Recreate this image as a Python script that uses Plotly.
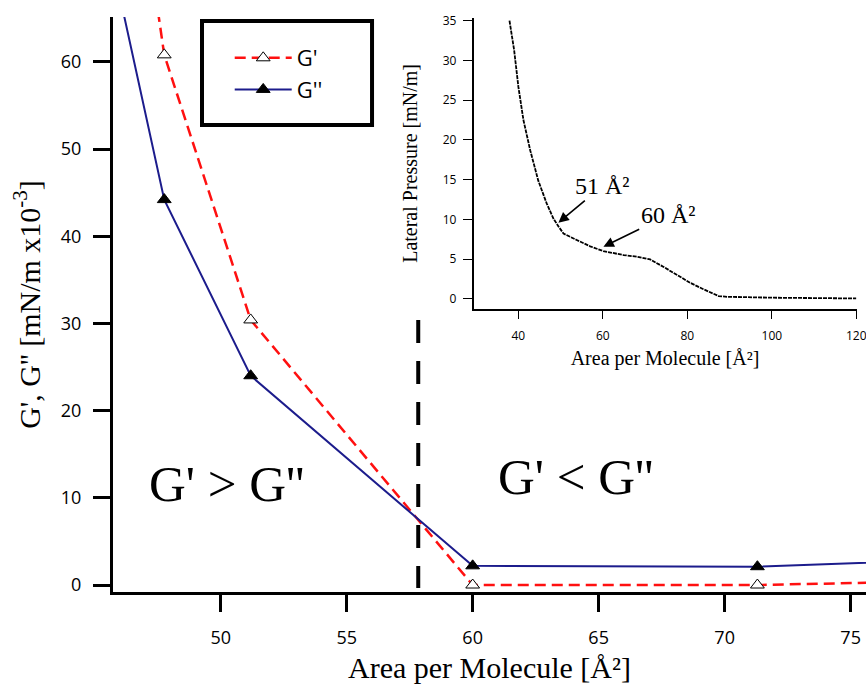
import plotly.graph_objects as go

# ---- main chart data: G', G'' vs area per molecule ----
area = [45.0, 47.76, 51.19, 60.0, 71.3, 80.0]
g_prime = [116.0, 60.8, 30.4, 0.0, 0.0, 0.52]        # G'  (mN/m x10^-3)
g_double = [80.7, 44.2, 24.0, 2.2, 2.1, 3.0]         # G'' (mN/m x10^-3)
crossover_area = 57.84
crossover_top = 30.4
crossover_bottom = -0.35

main_xticks = [50, 55, 60, 65, 70, 75]
main_yticks = [0, 10, 20, 30, 40, 50, 60]

# ---- inset data: Langmuir isotherm ----
iso_area = [37.9, 39.0, 40.0, 41.2, 42.8, 44.7, 46.7, 48.3, 49.5, 50.7, 53.8, 57.0,
            60.1, 64.9, 68.0, 71.2, 74.4, 77.5, 80.7, 83.8, 87.4, 89.4, 96.5, 100.4, 120.0]
iso_pressure = [35.0, 31.3, 26.7, 22.5, 18.7, 14.9, 12.0, 10.1, 9.1, 8.2, 7.4, 6.6,
                6.0, 5.5, 5.3, 4.95, 4.0, 3.0, 2.0, 1.2, 0.34, 0.25, 0.17, 0.13, 0.04]
inset_xticks = [40, 60, 80, 100, 120]
inset_yticks = [0, 5, 10, 15, 20, 25, 30, 35]

# annotated points on the isotherm (arrow head) and label positions
mark_labels = ["51 Å²", "60 Å²"]
mark_area = [49.48, 60.14]
mark_pressure = [9.57, 6.55]
label_area = [59.83, 75.47]
label_pressure = [14.19, 10.54]

serif = "Liberation Serif, Times New Roman, serif"
sans = "Open Sans, DejaVu Sans, sans-serif"

fig = go.Figure()

fig.add_trace(go.Scatter(
    x=area, y=g_prime, name="G'", mode="lines+markers",
    line=dict(color="#ff1010", width=2.5, dash="11px,6px"),
    marker=dict(symbol="triangle-up", size=12, color="white",
                line=dict(color="black", width=1)),
    legendgroup="a",
))
fig.add_trace(go.Scatter(
    x=area, y=g_double, name="G''", mode="lines+markers",
    line=dict(color="#1c1c8c", width=2),
    marker=dict(symbol="triangle-up", size=12, color="black",
                line=dict(color="black", width=1)),
    legendgroup="b",
))
fig.add_trace(go.Scatter(
    x=iso_area, y=iso_pressure, mode="lines", showlegend=False,
    line=dict(color="black", width=1.8, dash="4px,1px"),
    xaxis="x2", yaxis="y2",
))

fig.add_shape(type="line", xref="x", yref="y",
              x0=crossover_area, x1=crossover_area, y0=crossover_top, y1=crossover_bottom,
              line=dict(color="black", width=4, dash="23px,18px"))

# legend frame
fig.add_shape(type="rect", xref="paper", yref="paper",
              x0=0.1182, x1=0.344, y0=0.8122, y1=0.993,
              line=dict(color="black", width=4), fillcolor="rgba(0,0,0,0)")

annotations = [
    dict(text="G' > G''", x=50.26, y=11.6, xref="x", yref="y", showarrow=False,
         font=dict(family=serif, size=51, color="black")),
    dict(text="G' < G''", x=64.12, y=12.4, xref="x", yref="y", showarrow=False,
         font=dict(family=serif, size=51, color="black")),
]
for lab, hx, hy, tx, ty in zip(mark_labels, mark_area, mark_pressure, label_area, label_pressure):
    annotations.append(dict(
        text=lab, x=hx, y=hy, ax=tx, ay=ty, xref="x2", yref="y2",
        axref="x2", ayref="y2", showarrow=True, arrowhead=2, arrowsize=1.3,
        arrowwidth=1.6, arrowcolor="black",
        font=dict(family=serif, size=24, color="black")))

common = dict(showgrid=False, zeroline=False, showline=True, linecolor="black",
              ticks="outside", tickcolor="black", automargin=False)

fig.update_layout(
    width=866, height=684,
    margin=dict(l=113, r=0, t=17, b=92, autoexpand=False),
    paper_bgcolor="white", plot_bgcolor="white",
    annotations=annotations,
    legend=dict(x=0.155, y=0.9652, xanchor="left", yanchor="top",
                bgcolor="rgba(0,0,0,0)", borderwidth=0, itemwidth=57,
                font=dict(family=sans, size=22, color="black"),
                tracegroupgap=0),
    xaxis=dict(range=[45.726, 75.61], tickvals=main_xticks, linewidth=3,
               ticklen=17, tickwidth=2.5, ticklabelstandoff=10,
               tickfont=dict(family=sans, size=18, color="black"),
               title=dict(text="Area per Molecule [Å²]", standoff=10,
                          font=dict(family=serif, size=30, color="black")), **common),
    yaxis=dict(range=[-0.8, 65.14], tickvals=main_yticks, linewidth=3,
               ticklen=17, tickwidth=2.5, ticklabelstandoff=8,
               tickfont=dict(family=sans, size=18, color="black"),
               title=dict(text="G', G'' [mN/m x10<sup>-3</sup>]", standoff=12,
                          font=dict(family=serif, size=30, color="black")), **common),
    xaxis2=dict(domain=[0.4788, 0.9874], anchor="y2", range=[29.39, 120.05],
                tickvals=inset_xticks, linewidth=1.5, ticklen=9, tickwidth=1.2,
                ticklabelstandoff=6, ticklabeloverflow="allow",
                tickfont=dict(family=sans, size=12, color="black"),
                title=dict(text="Area per Molecule [Å²]", standoff=8,
                           font=dict(family=serif, size=20, color="black")), **common),
    yaxis2=dict(domain=[0.493, 0.9977], anchor="x2", range=[-1.23, 35.3],
                tickvals=inset_yticks, linewidth=1.5, ticklen=9, tickwidth=1.2,
                ticklabelstandoff=4,
                tickfont=dict(family=sans, size=12, color="black"),
                title=dict(text="Lateral Pressure [mN/m]", standoff=20,
                           font=dict(family=serif, size=20, color="black")), **common),
)

# remove the default page margin so the 866x684 figure fills the window exactly
fig.write_html(
    "out.html",
    config={"displayModeBar": False},
    post_script=("document.body.style.margin='0';"
                 "document.body.style.overflow='hidden';"
                 "document.documentElement.style.overflow='hidden';"),
)
